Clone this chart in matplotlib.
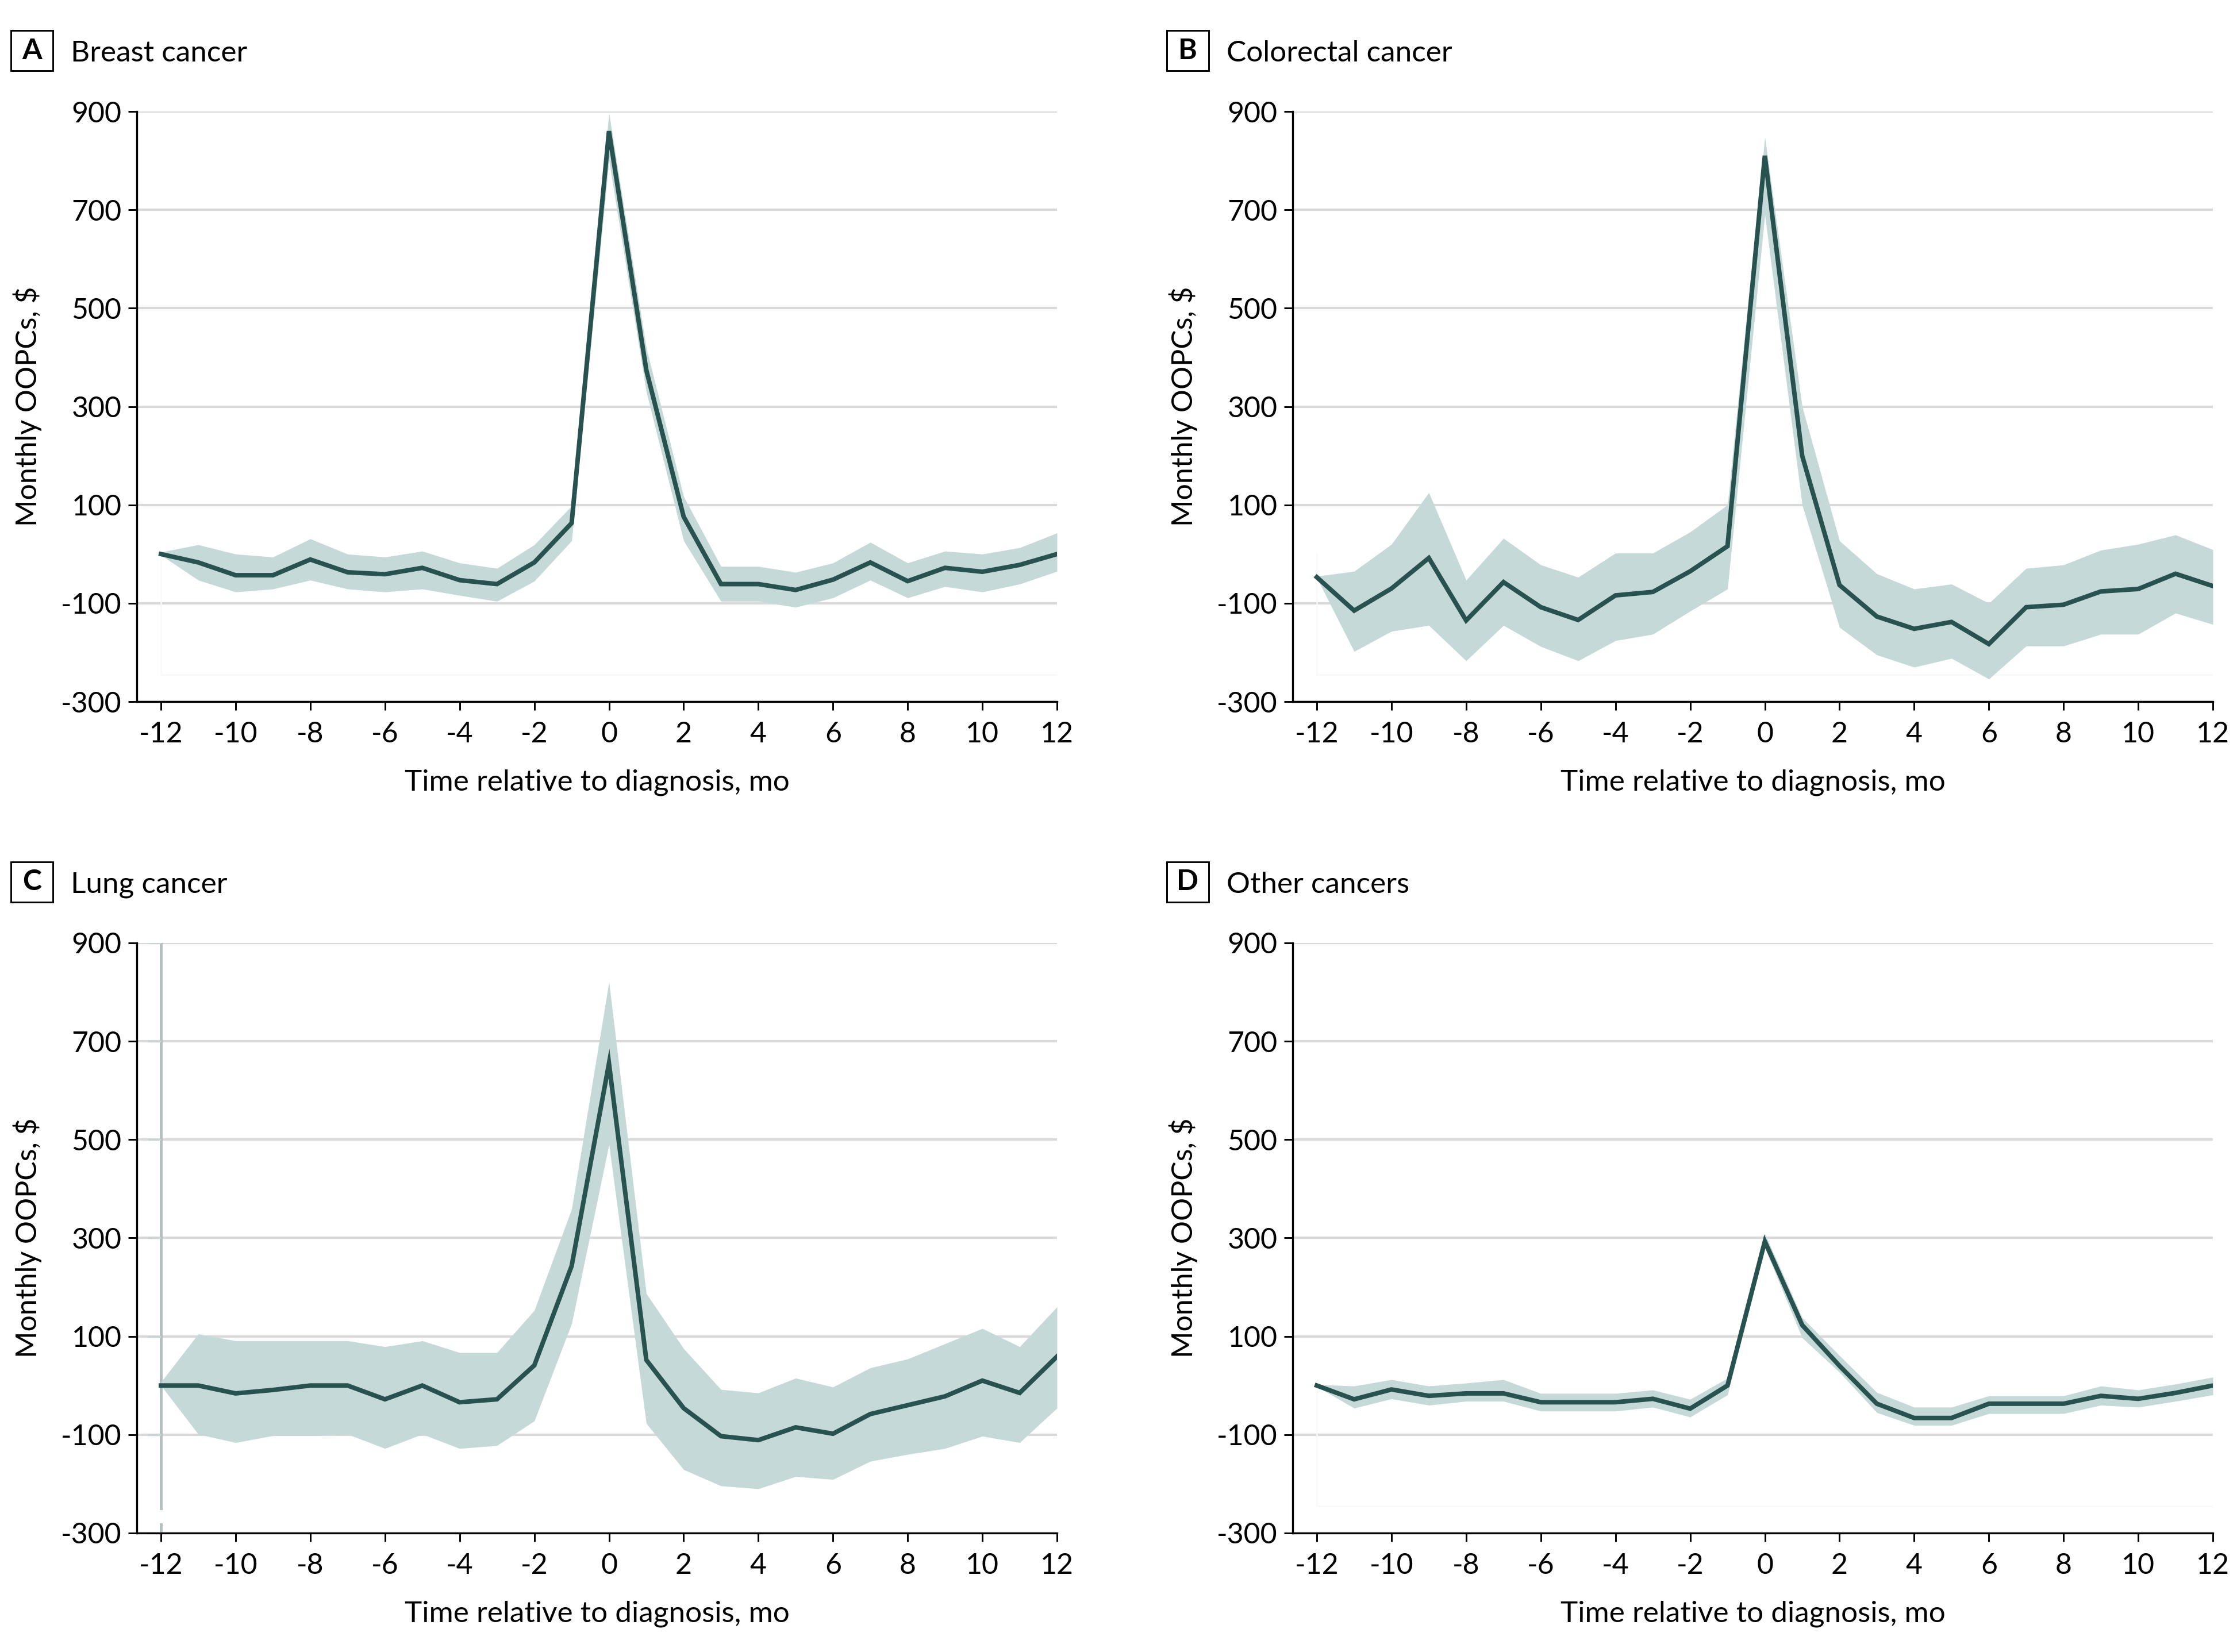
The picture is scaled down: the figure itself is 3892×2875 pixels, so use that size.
import matplotlib
matplotlib.use("Agg")
import matplotlib.pyplot as plt
import matplotlib.patches as patches
import numpy as np

plt.rcParams['font.family'] = ['Lato', 'DejaVu Sans']

#Values
months = list(range(-12, 13))
yticks = [-300, -100, 100, 300, 500, 700, 900]
xticks = list(range(-12, 13, 2))

breast_mean = [0, -17, -43, -43, -11, -37, -41, -28, -53, -61, -17, 63, 860, 374, 76,
               -61, -61, -73, -52, -17, -55, -28, -36, -22, 0]
breast_hi = [4, 19, 0, -6, 31, 0, -6, 6, -18, -29, 19, 98, 897, 419, 117,
             -25, -25, -37, -18, 24, -18, 6, 0, 13, 43]
breast_lo = [-2, -53, -77, -71, -53, -71, -77, -71, -84, -96, -55, 27, 800, 330, 27,
             -96, -96, -108, -89, -53, -89, -66, -77, -61, -35]

colorectal_mean = [-47, -115, -70, -8, -135, -57, -108, -134, -84, -77, -35, 16, 810, 200, -63,
                   -127, -152, -138, -183, -108, -103, -76, -71, -40, -65]
colorectal_hi = [-45, -35, 20, 125, -53, 32, -22, -47, 2, 2, 45, 100, 848, 300, 27,
                 -40, -71, -61, -100, -29, -22, 8, 20, 39, 9]
colorectal_lo = [-48, -198, -157, -145, -217, -145, -188, -217, -176, -163, -116, -71, 690, 100, -149,
                 -205, -230, -212, -254, -187, -187, -163, -163, -120, -143]

lung_mean = [0, 0, -16, -9, 0, 0, -28, 0, -34, -28, 41, 243, 655, 52, -46,
             -103, -111, -85, -98, -58, -40, -22, 10, -15, 59]
lung_hi = [7, 105, 91, 91, 91, 91, 79, 91, 67, 67, 153, 359, 821, 187, 75,
           -8, -15, 15, -3, 36, 54, 85, 116, 79, 160]
lung_lo = [0, -99, -116, -102, -102, -99, -128, -99, -128, -122, -72, 126, 490, -77, -171,
           -204, -210, -185, -191, -154, -140, -128, -103, -116, -46]

other_mean = [0, -28, -8, -21, -16, -16, -34, -34, -34, -27, -47, 0, 293, 123, 40,
              -37, -66, -66, -37, -37, -37, -21, -27, -15, 0]
other_hi = [2, -1, 12, -1, 5, 12, -16, -16, -16, -9, -28, 15, 309, 138, 61,
            -14, -44, -44, -21, -21, -21, -1, -9, 3, 17]
other_lo = [-2, -46, -27, -40, -32, -32, -52, -52, -52, -44, -64, -19, 280, 97, 27,
            -55, -81, -81, -57, -57, -57, -40, -44, -32, -19]

panels = [
    ("A", "Breast cancer", breast_mean, breast_lo, breast_hi),
    ("B", "Colorectal cancer", colorectal_mean, colorectal_lo, colorectal_hi),
    ("C", "Lung cancer", lung_mean, lung_lo, lung_hi),
    ("D", "Other cancers", other_mean, other_lo, other_hi),
]

line_col = "#28524f"
band_col = "#c6d9d9"
grid_col = "#d9d9d9"

W, H = 3892, 2875
fig = plt.figure(figsize=(W / 300, H / 300), dpi=300)

lefts = [0.06115, 0.57785]
bottoms = [0.5753, 0.0720]
aw, ah = 0.41136, 0.35722

for k, (letter, title, mean, lo, hi) in enumerate(panels):
    col = k % 2
    row = k // 2
    ax = fig.add_axes([lefts[col], bottoms[row], aw, ah])
    x = np.array(months)
    ax.fill_between(x, lo, hi, color=band_col, lw=0, zorder=2)
    ax.plot(x, mean, color=line_col, lw=1.9, zorder=3, solid_joinstyle='miter')

    if letter == "C":
        # odd grey axis left behind at x=-12 in the lung panel
        ax.plot([-12, -12], [900, -250], color="#b2c0c0", lw=1.2, zorder=1.5)
        ax.plot([-12, -12], [-282, -300], color="#b2c0c0", lw=1.2, zorder=1.5)
        ax.hlines(yticks, -12.35, -12, color="#c9d3d3", lw=0.8, zorder=1.5)
    else:
        # very faint box seen in the other panels
        ax.plot([-12, -12, 12], [0, -245, -245], color="#f8f9f9", lw=0.6, zorder=1)

    ax.set_xlim(-12.647, 12)
    ax.set_ylim(-300, 900)
    ax.set_xticks(xticks)
    ax.set_xticklabels([str(t) for t in xticks])
    ax.set_yticks(yticks)
    ax.set_yticklabels([str(t) for t in yticks])
    ax.yaxis.grid(True, color=grid_col, lw=1.0, zorder=0)
    ax.set_axisbelow(True)
    for s in ["top", "right"]:
        ax.spines[s].set_visible(False)
    for s in ["left", "bottom"]:
        ax.spines[s].set_linewidth(0.8)
        ax.spines[s].set_color("black")
    ax.tick_params(axis='both', length=3.7, width=0.7, labelsize=12, colors='black')
    ax.tick_params(axis='x', pad=4.5)
    ax.tick_params(axis='y', pad=2.6)
    ax.set_xlabel("Time relative to diagnosis, mo", fontsize=12.3, labelpad=9)
    ax.set_ylabel("Monthly OOPCs, $", fontsize=12, labelpad=8)

    # panel letter box and title
    dx = col * 0.51670
    dy = -row * 0.50330
    rect = patches.Rectangle((0.00488 + dx, 0.95722 + dy), 0.01876, 0.02435,
                             transform=fig.transFigure, fill=False, ec="black", lw=0.7)
    fig.patches.append(rect)
    fig.text(0.01426 + dx, 0.96939 + dy, letter, ha='center', va='center',
             fontsize=12, fontweight='bold')
    fig.text(0.0316 + dx, 0.96278 + dy, title, ha='left', va='baseline', fontsize=12.3)

fig.savefig("out.png", dpi=300, facecolor="white")
